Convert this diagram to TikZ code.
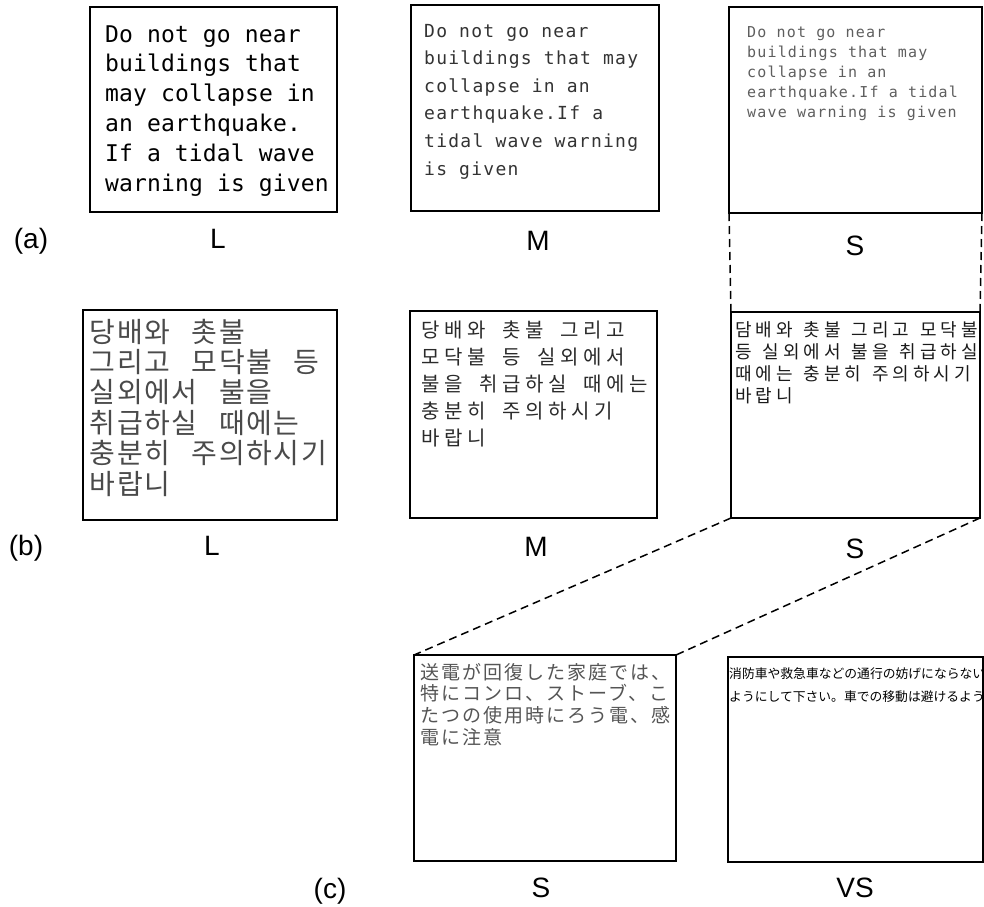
\documentclass[tikz,border=0pt]{standalone}
\usepackage{fontspec}
\setmainfont{Liberation Sans}
\newfontfamily\monoL[LetterSpace=0.7]{DejaVu Sans Mono}
\newfontfamily\monoM[LetterSpace=7]{DejaVu Sans Mono}
\newfontfamily\monoS[LetterSpace=7.8]{DejaVu Sans Mono}
\newfontfamily\krfont{Noto Sans CJK KR}
\newfontfamily\jpS[LetterSpace=10.5]{Noto Sans CJK JP}
\newfontfamily\jpVS{Noto Sans CJK JP}
\definecolor{tM}{HTML}{333333}
\definecolor{tS}{HTML}{5E5E5E}
\definecolor{kL}{HTML}{4A4A4A}
\definecolor{kM}{HTML}{2A2A2A}
\definecolor{kS}{HTML}{1A1A1A}
\definecolor{jS}{HTML}{555555}
% fixed-pitch setting of Hangul: each glyph in a cell, '|' is a word space
\newdimen\cellw \newdimen\gapw
\def\spread#1{\spreadloop#1\relax}
\def\spreadloop#1{\ifx#1\relax\else\ifx#1|\hspace*{\gapw}\else\makebox[\cellw][c]{#1}\fi\expandafter\spreadloop\fi}
\def\spreadm#1{\expandafter\spread\expandafter{#1}}
\begin{document}
\begin{tikzpicture}[x=1pt,y=-1pt,
  box/.style={draw=black, line width=2pt, rectangle, inner sep=0pt, outer sep=0pt},
  zoomline/.style={draw=black, line width=1.5pt, dash pattern=on 8pt off 5pt},
  lab/.style={font=\fontsize{28}{28}\selectfont, anchor=base, inner sep=0pt},
  txt/.style={anchor=base west, inner sep=0pt},
  eL/.style={txt, font=\monoL\fontsize{23}{23}\selectfont},
  eM/.style={txt, text=tM, font=\monoM\fontsize{18}{18}\selectfont},
  eS/.style={txt, text=tS, font=\monoS\fontsize{15}{15}\selectfont},
  hL/.style={txt, text=kL, font={\krfont\fontsize{28}{28}\selectfont\cellw=27.3pt\gapw=20pt}},
  hM/.style={txt, text=kM, font={\krfont\fontsize{20}{20}\selectfont\cellw=23pt\gapw=12pt}},
  hS/.style={txt, text=kS, font={\krfont\fontsize{18}{18}\selectfont\cellw=20.5pt\gapw=7pt}},
  jpS/.style={txt, text=jS, font=\jpS\fontsize{19}{19}\selectfont},
  jpV/.style={txt, text=black, font=\jpVS\fontsize{12.8}{12.8}\selectfont}]
\useasboundingbox (0,0) rectangle (984,906);

% boxes
\node[box, minimum width=247pt, minimum height=205pt] (aL) at (213.5,109.5) {};
\node[box, minimum width=248pt, minimum height=206pt] (aM) at (535,108) {};
\node[box, minimum width=253pt, minimum height=206pt] (aS) at (855.5,110) {};
\node[box, minimum width=254pt, minimum height=210pt] (bL) at (210,415) {};
\node[box, minimum width=247pt, minimum height=207pt] (bM) at (533.5,414.5) {};
\node[box, minimum width=249pt, minimum height=206pt] (bS) at (855.5,415) {};
\node[box, minimum width=262pt, minimum height=206pt] (cS) at (545,758) {};
\node[box, minimum width=255pt, minimum height=205pt] (cV) at (855.5,759.5) {};

% row (a) texts
\foreach \t [count=\i from 0] in {Do not go near, buildings that, may collapse in, an earthquake., If a tidal wave, warning is given}
  \node[eL] (aLt\i) at (105,{42+29.8*\i}) {\t};
\foreach \t [count=\i from 0] in {Do not go near, buildings that may, collapse in an, earthquake.If a, tidal wave warning, is given}
  \node[eM] (aMt\i) at (424,{37+27.6*\i}) {\t};
\foreach \t [count=\i from 0] in {Do not go near, buildings that may, collapse in an, earthquake.If a tidal, wave warning is given}
  \node[eS] (aSt\i) at (747,{37+20*\i}) {\t};

% row (b) texts
\foreach \t [count=\i from 0] in {당배와|촛불, 그리고|모닥불|등, 실외에서|불을, 취급하실|때에는, 충분히|주의하시기, 바랍니}
  \node[hL] (bLt\i) at (89,{342+30.4*\i}) {\spreadm{\t}};
\foreach \t [count=\i from 0] in {당배와|촛불|그리고, 모닥불|등|실외에서, 불을|취급하실|때에는, 충분히|주의하시기, 바랍니}
  \node[hM] (bMt\i) at (418.5,{337+27*\i}) {\spreadm{\t}};
\begin{scope}
  \clip (bS.south west) rectangle (bS.north east);
  \foreach \t [count=\i from 0] in {담배와|촛불|그리고|모닥불, 등|실외에서|불을|취급하실, 때에는|충분히|주의하시기, 바랍니}
    \node[hS] (bSt\i) at (733,{336+22*\i}) {\spreadm{\t}};
\end{scope}

% row (c) texts
\foreach \t [count=\i from 0] in {送電が回復した家庭では、, 特にコンロ、ストーブ、こ, たつの使用時にろう電、感, 電に注意}
  \node[jpS] (cSt\i) at (420,{679+21.7*\i}) {\t};
\begin{scope}
  \clip (cV.south west) rectangle (cV.north east);
  \node[jpV] (cVt0) at (729,678) {消防車や救急車などの通行の妨げにならない};
  \node[jpV] (cVt1) at (729,701) {ようにして下さい。車での移動は避けるよう};
\end{scope}

% zoom connectors
\draw[zoomline] (aS.south west) -- (bS.north west);
\draw[zoomline] (aS.south east) -- (bS.north east);
\draw[zoomline] (bS.south west) -- (cS.north west);
\draw[zoomline] (bS.south east) -- (cS.north east);

% labels
\node[lab] (labA) at (31,248) {(a)};
\node[lab] (aLl) at (218,248) {L};
\node[lab] (aMl) at (538,250) {M};
\node[lab] (aSl) at (855,255) {S};
\node[lab] (labB) at (26,555) {(b)};
\node[lab] (bLl) at (212,555) {L};
\node[lab] (bMl) at (536,556) {M};
\node[lab] (bSl) at (855,558) {S};
\node[lab] (labC) at (330,898) {(c)};
\node[lab] (cSl) at (541,897) {S};
\node[lab] (cVl) at (855,897) {VS};
\end{tikzpicture}
\end{document}
